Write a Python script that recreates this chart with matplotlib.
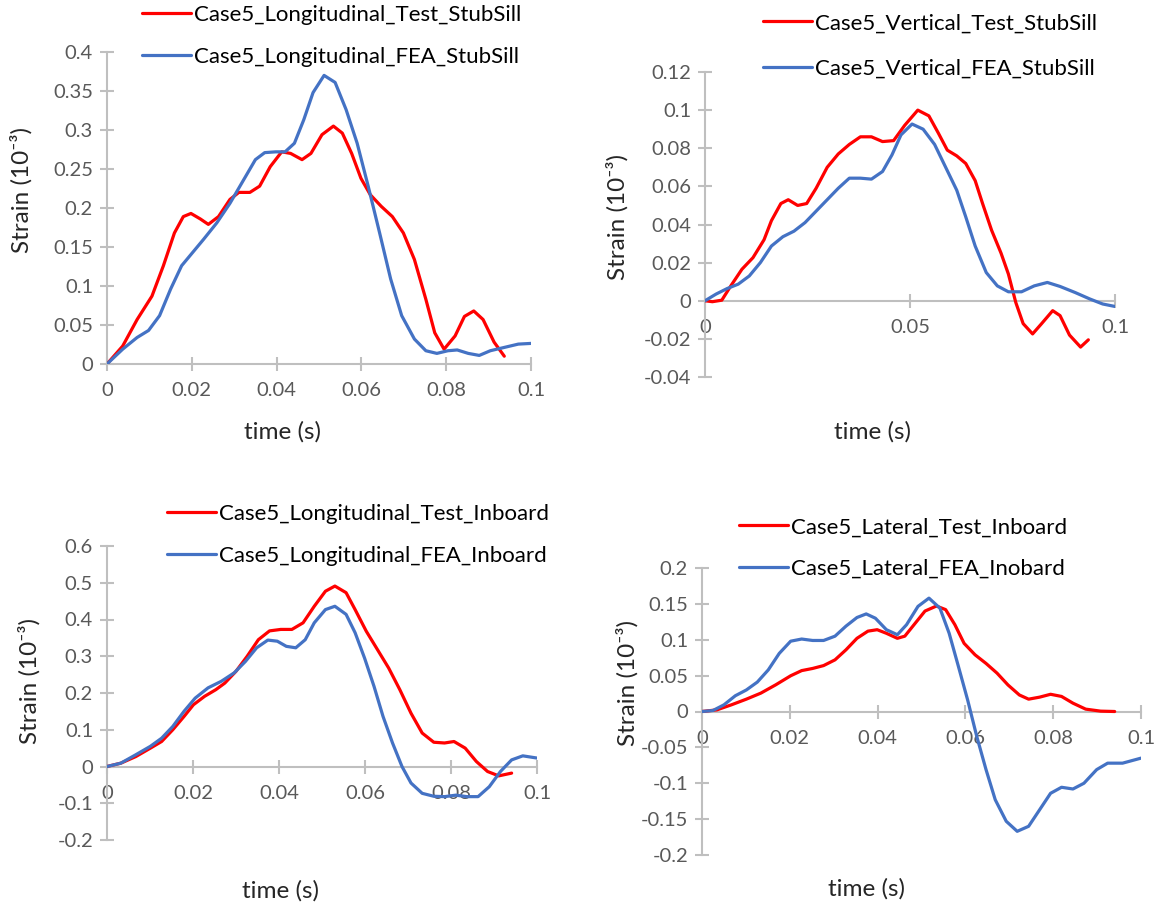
import matplotlib.pyplot as plt
from matplotlib.ticker import FuncFormatter, MultipleLocator

# ---- data (time in s, strain in 1e-3) ----
# top left: longitudinal, stub sill
t_long_ss_test = [0, 0.0037, 0.0071, 0.0106, 0.0133, 0.0159, 0.018, 0.0198, 0.022, 0.0239,
                  0.0263, 0.029, 0.0311, 0.0337, 0.036, 0.0385, 0.0412, 0.0433, 0.046, 0.0481,
                  0.0507, 0.0534, 0.0555, 0.0577, 0.0599, 0.0621, 0.0647, 0.0673, 0.0699, 0.0725,
                  0.0752, 0.0773, 0.0795, 0.0821, 0.0843, 0.0865, 0.0887, 0.0913, 0.0937]
long_ss_test = [0, 0.023, 0.057, 0.087, 0.126, 0.168, 0.189, 0.193, 0.186, 0.179,
                0.189, 0.211, 0.22, 0.22, 0.228, 0.253, 0.272, 0.27, 0.262, 0.27,
                0.294, 0.305, 0.296, 0.27, 0.238, 0.217, 0.202, 0.189, 0.168, 0.134,
                0.083, 0.04, 0.019, 0.036, 0.061, 0.068, 0.057, 0.028, 0.01]
t_long_ss_fea = [0, 0.0037, 0.0071, 0.0098, 0.0124, 0.015, 0.0176, 0.0202, 0.0228, 0.0259,
                 0.029, 0.032, 0.035, 0.0372, 0.0398, 0.042, 0.0442, 0.0464, 0.0486, 0.0512,
                 0.0538, 0.0564, 0.059, 0.0616, 0.0643, 0.0669, 0.0695, 0.0725, 0.0752, 0.0778,
                 0.0804, 0.0826, 0.0852, 0.0878, 0.0904, 0.0935, 0.097, 0.1]
long_ss_fea = [0, 0.019, 0.034, 0.043, 0.062, 0.096, 0.126, 0.143, 0.16, 0.181,
               0.206, 0.234, 0.262, 0.271, 0.272, 0.272, 0.283, 0.313, 0.348, 0.37,
               0.361, 0.326, 0.283, 0.228, 0.168, 0.109, 0.062, 0.032, 0.017, 0.0136,
               0.017, 0.018, 0.0136, 0.011, 0.017, 0.021, 0.0255, 0.0264]

# top right: vertical, stub sill
t_vert_ss_test = [0, 0.0018, 0.0041, 0.0063, 0.009, 0.0117, 0.0144, 0.0162, 0.0185, 0.0203,
                  0.0226, 0.0248, 0.0271, 0.0298, 0.0325, 0.0352, 0.0379, 0.0406, 0.0433, 0.046,
                  0.0487, 0.0519, 0.0546, 0.0569, 0.0591, 0.0614, 0.0636, 0.0659, 0.0677, 0.0699,
                  0.0722, 0.074, 0.0758, 0.0776, 0.0799, 0.0821, 0.0848, 0.0866, 0.0889, 0.0916,
                  0.0935]
vert_ss_test = [0, -0.0005, 0.0003, 0.0078, 0.0165, 0.0226, 0.032, 0.042, 0.051, 0.053,
                0.05, 0.051, 0.059, 0.07, 0.077, 0.082, 0.086, 0.086, 0.0835, 0.084,
                0.092, 0.1, 0.097, 0.088, 0.079, 0.076, 0.072, 0.063, 0.051, 0.037,
                0.025, 0.014, -0.0009, -0.012, -0.0174, -0.012, -0.0052, -0.0078, -0.018, -0.0243,
                -0.0205]
t_vert_ss_fea = [0, 0.0027, 0.0054, 0.0081, 0.0108, 0.0135, 0.0162, 0.019, 0.0217, 0.0244,
                 0.0271, 0.0298, 0.0325, 0.0352, 0.0379, 0.0406, 0.0433, 0.0456, 0.0478, 0.0505,
                 0.0532, 0.056, 0.0587, 0.0614, 0.0636, 0.0659, 0.0686, 0.0713, 0.074, 0.0772,
                 0.0803, 0.0835, 0.0866, 0.0903, 0.0939, 0.097, 0.1]
vert_ss_fea = [0, 0.0035, 0.0064, 0.0087, 0.013, 0.02, 0.0287, 0.0336, 0.0365, 0.041,
               0.047, 0.053, 0.059, 0.0643, 0.0643, 0.0638, 0.0678, 0.0765, 0.087, 0.0927,
               0.09, 0.082, 0.07, 0.058, 0.044, 0.0287, 0.0148, 0.0078, 0.0047, 0.0047,
               0.0078, 0.0096, 0.0075, 0.0043, 0.0009, -0.0017, -0.003]

# bottom left: longitudinal, inboard
t_long_ib_test = [0, 0.0032, 0.0067, 0.0101, 0.0127, 0.0153, 0.0179, 0.0201, 0.0227, 0.0253,
                  0.0274, 0.03, 0.0326, 0.0352, 0.0378, 0.0404, 0.043, 0.0456, 0.0482, 0.0508,
                  0.053, 0.0556, 0.0577, 0.0603, 0.0629, 0.0655, 0.0681, 0.0707, 0.0733, 0.076,
                  0.0785, 0.0807, 0.0833, 0.0859, 0.0885, 0.0911, 0.0941]
long_ib_test = [0, 0.009, 0.027, 0.05, 0.068, 0.1, 0.136, 0.168, 0.191, 0.209,
                0.227, 0.259, 0.3, 0.345, 0.369, 0.373, 0.373, 0.391, 0.436, 0.477,
                0.491, 0.473, 0.427, 0.368, 0.318, 0.268, 0.209, 0.145, 0.091, 0.066,
                0.064, 0.068, 0.05, 0.0136, -0.0136, -0.0255, -0.018]
t_long_ib_fea = [0, 0.0032, 0.0067, 0.0101, 0.0127, 0.0153, 0.0179, 0.0205, 0.0235, 0.0266,
                 0.0296, 0.0322, 0.0348, 0.0374, 0.0396, 0.0417, 0.0439, 0.0461, 0.0482, 0.0508,
                 0.053, 0.0556, 0.0577, 0.0599, 0.0621, 0.0642, 0.0664, 0.0686, 0.0707, 0.0733,
                 0.076, 0.0785, 0.0811, 0.0837, 0.0863, 0.0889, 0.0915, 0.0941, 0.0967, 0.1]
long_ib_fea = [0, 0.009, 0.032, 0.055, 0.077, 0.109, 0.15, 0.186, 0.214, 0.232,
               0.255, 0.286, 0.323, 0.344, 0.341, 0.327, 0.323, 0.345, 0.391, 0.427,
               0.436, 0.414, 0.364, 0.295, 0.218, 0.136, 0.064, 0.0, -0.045, -0.073,
               -0.081, -0.082, -0.078, -0.082, -0.082, -0.055, -0.0136, 0.018, 0.029, 0.023]

# bottom right: lateral, inboard
t_lat_ib_test = [0, 0.0034, 0.0067, 0.0101, 0.0134, 0.0168, 0.0202, 0.0227, 0.0252, 0.0277,
                 0.0303, 0.0328, 0.0353, 0.0378, 0.0399, 0.042, 0.0445, 0.0462, 0.0483, 0.0508,
                 0.0534, 0.0555, 0.0576, 0.0597, 0.0622, 0.0647, 0.0672, 0.0697, 0.0723, 0.0744,
                 0.0769, 0.0794, 0.0819, 0.0845, 0.0874, 0.0908, 0.094]
lat_ib_test = [0, 0.0023, 0.0093, 0.0172, 0.0256, 0.0372, 0.0498, 0.057, 0.06, 0.064,
               0.072, 0.086, 0.102, 0.112, 0.114, 0.109, 0.102, 0.105, 0.121, 0.14,
               0.147, 0.142, 0.121, 0.095, 0.079, 0.067, 0.0535, 0.037, 0.023, 0.0172,
               0.02, 0.024, 0.021, 0.0116, 0.0033, 0.0005, 0.0]
t_lat_ib_fea = [0, 0.0025, 0.005, 0.0076, 0.0101, 0.0126, 0.0151, 0.0176, 0.0202, 0.0227,
                0.0252, 0.0277, 0.0303, 0.0328, 0.0353, 0.0374, 0.0395, 0.042, 0.0445, 0.0466,
                0.0492, 0.0517, 0.0542, 0.0563, 0.0584, 0.0605, 0.0626, 0.0647, 0.0668, 0.0693,
                0.0718, 0.0744, 0.0769, 0.0794, 0.0819, 0.0845, 0.087, 0.0899, 0.0924, 0.0958,
                0.1]
lat_ib_fea = [0, 0.0014, 0.0093, 0.022, 0.03, 0.041, 0.058, 0.081, 0.098, 0.101,
              0.099, 0.099, 0.105, 0.119, 0.131, 0.136, 0.13, 0.114, 0.107, 0.121,
              0.1465, 0.158, 0.144, 0.109, 0.063, 0.0163, -0.035, -0.081, -0.123, -0.153,
              -0.167, -0.16, -0.137, -0.114, -0.1056, -0.108, -0.1, -0.081, -0.072, -0.072,
              -0.065]

labels = [("Case5_Longitudinal_Test_StubSill", "Case5_Longitudinal_FEA_StubSill"),
          ("Case5_Vertical_Test_StubSill", "Case5_Vertical_FEA_StubSill"),
          ("Case5_Longitudinal_Test_Inboard", "Case5_Longitudinal_FEA_Inboard"),
          ("Case5_Lateral_Test_Inboard", "Case5_Lateral_FEA_Inobard")]

# ---- layout (pixels of the 1159x907 picture) ----
W, H = 1159, 907
RED = '#FF0000'
BLUE = '#4472C4'
AXC = '#BFBFBF'
TICKC = '#595959'
LABC = '#262626'

plt.rcParams['font.family'] = ['Lato', 'DejaVu Sans']


def box(l, t, r, b):
    return [l / W, 1 - b / H, (r - l) / W, (b - t) / H]


def fxy(x, y):
    return (x / W, 1 - y / H)


def fmt(v, pos):
    return f'{round(v, 6):g}'


panels = [
    # axes box, ylim, ystep, xstep, series, legend anchor + row gap, xlabel pos, ylabel pos
    dict(box=(107, 52, 531, 364), ylim=(0, 0.4), ystep=0.05, xstep=0.02,
         test=(t_long_ss_test, long_ss_test), fea=(t_long_ss_fea, long_ss_fea),
         leg=(142, 19), gap=0.98, xl=(282, 432), yl=(21, 190)),
    dict(box=(705, 72, 1115, 377), ylim=(-0.04, 0.12), ystep=0.02, xstep=0.05,
         test=(t_vert_ss_test, vert_ss_test), fea=(t_vert_ss_fea, vert_ss_fea),
         leg=(763, 27), gap=1.15, xl=(872, 432), yl=(617, 217)),
    dict(box=(107, 546, 537, 840), ylim=(-0.2, 0.6), ystep=0.1, xstep=0.02,
         test=(t_long_ib_test, long_ib_test), fea=(t_long_ib_fea, long_ib_fea),
         leg=(167, 518), gap=0.98, xl=(280, 891), yl=(29, 681)),
    dict(box=(702, 568, 1141, 855), ylim=(-0.2, 0.2), ystep=0.05, xstep=0.02,
         test=(t_lat_ib_test, lat_ib_test), fea=(t_lat_ib_fea, lat_ib_fea),
         leg=(739, 531), gap=0.95, xl=(867, 889), yl=(627, 683)),
]

LEGFS = 16
fig = plt.figure(figsize=(W / 100, H / 100), dpi=100)

for p, (lab_test, lab_fea) in zip(panels, labels):
    ax = fig.add_axes(box(*p['box']))
    ax.plot(*p['test'], color=RED, lw=2.3, label=lab_test, zorder=3,
            solid_capstyle='round', solid_joinstyle='round')
    ax.plot(*p['fea'], color=BLUE, lw=2.3, label=lab_fea, zorder=3,
            solid_capstyle='round', solid_joinstyle='round')
    ax.set_xlim(0, 0.1)
    ax.set_ylim(*p['ylim'])
    ax.xaxis.set_major_locator(MultipleLocator(p['xstep']))
    ax.yaxis.set_major_locator(MultipleLocator(p['ystep']))
    ax.xaxis.set_major_formatter(FuncFormatter(fmt))
    ax.yaxis.set_major_formatter(FuncFormatter(fmt))

    for s in ('top', 'right'):
        ax.spines[s].set_visible(False)
    ax.spines['bottom'].set_position(('data', 0))
    for s in ('left', 'bottom'):
        ax.spines[s].set_color(AXC)
        ax.spines[s].set_linewidth(1.5)
    ax.patch.set_alpha(0)
    ax.tick_params(axis='both', direction='inout', length=10, width=1.5, color=AXC,
                   labelcolor=TICKC, labelsize=14.5)
    ax.tick_params(axis='y', pad=5)
    ax.tick_params(axis='x', pad=8)

    ax.set_xlabel('time (s)', fontsize=17.5, color=LABC, ha='center', va='center')
    ax.xaxis.set_label_coords(*fxy(*p['xl']), transform=fig.transFigure)
    ax.set_ylabel('Strain (10⁻³)', fontsize=17.5, color=LABC, ha='center', va='center')
    ax.yaxis.set_label_coords(*fxy(*p['yl']), transform=fig.transFigure)

    lx, ly = p['leg']
    fpx = LEGFS * 100 / 72
    ax.legend(loc='upper left', bbox_to_anchor=fxy(lx, ly - 0.62 * fpx),
              bbox_transform=fig.transFigure, frameon=False, fontsize=LEGFS,
              borderpad=0, borderaxespad=0, handlelength=2.2, handletextpad=0.15,
              labelspacing=p['gap'])

fig.savefig('out.png', dpi=100)
